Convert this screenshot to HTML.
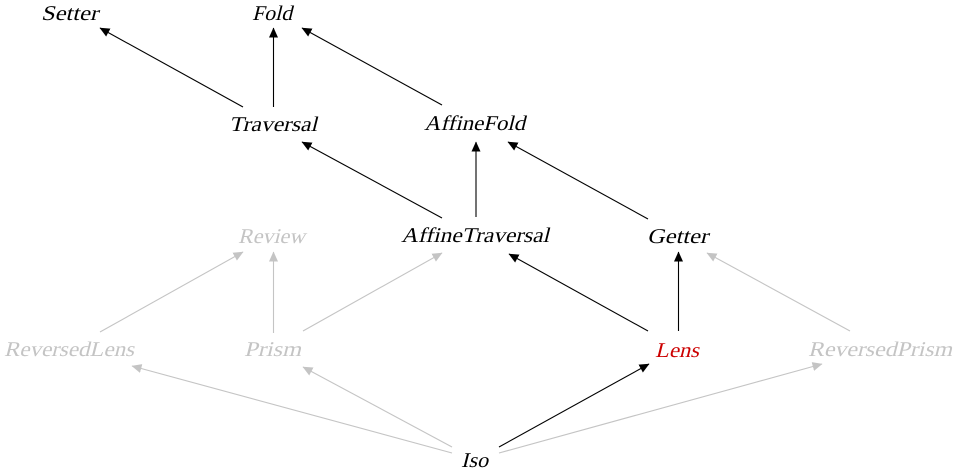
<!DOCTYPE html>
<html>
<head>
<meta charset="utf-8">
<style>
  html, body { margin: 0; padding: 0; background: #ffffff; }
  body { width: 958px; height: 474px; overflow: hidden; }
  svg { display: block; }
  svg text { font-family: "Liberation Serif", "DejaVu Serif", serif; font-style: normal; font-weight: normal; font-size: 21px; }
  .k { fill: #000000; }
  .g { fill: #c4c4c4; }
  .r { fill: #cc0000; }
</style>
</head>
<body>
<svg width="958" height="474" viewBox="0 0 958 474" xmlns="http://www.w3.org/2000/svg">
  <defs>
    <marker id="ab" markerUnits="userSpaceOnUse" markerWidth="10" markerHeight="9" refX="9.5" refY="4.5" orient="auto">
      <path d="M0,0 L10,4.5 L0,9 z" fill="#000"/>
    </marker>
    <marker id="ag" markerUnits="userSpaceOnUse" markerWidth="10" markerHeight="9" refX="9.5" refY="4.5" orient="auto">
      <path d="M0,0 L10,4.5 L0,9 z" fill="#c4c4c4"/>
    </marker>
  </defs>

  <!-- black edges -->
  <g stroke="#000" stroke-width="1.1" fill="none">
    <line x1="243" y1="107" x2="100" y2="28" marker-end="url(#ab)"/>
    <line x1="273.5" y1="107" x2="273.5" y2="28" marker-end="url(#ab)"/>
    <line x1="442" y1="105" x2="302" y2="28" marker-end="url(#ab)"/>
    <line x1="442" y1="218" x2="302" y2="142" marker-end="url(#ab)"/>
    <line x1="476" y1="217" x2="476" y2="142" marker-end="url(#ab)"/>
    <line x1="648" y1="219" x2="508" y2="142" marker-end="url(#ab)"/>
    <line x1="648" y1="331" x2="509" y2="254" marker-end="url(#ab)"/>
    <line x1="678.5" y1="331" x2="678.5" y2="252" marker-end="url(#ab)"/>
    <line x1="499" y1="447" x2="649" y2="364" marker-end="url(#ab)"/>
  </g>

  <!-- gray edges -->
  <g stroke="#c4c4c4" stroke-width="1.1" fill="none">
    <line x1="850" y1="331" x2="707" y2="253" marker-end="url(#ag)"/>
    <line x1="100" y1="332" x2="243" y2="252" marker-end="url(#ag)"/>
    <line x1="273.5" y1="333" x2="273.5" y2="252" marker-end="url(#ag)"/>
    <line x1="303" y1="331" x2="442" y2="253" marker-end="url(#ag)"/>
    <line x1="452" y1="453" x2="132" y2="366" marker-end="url(#ag)"/>
    <line x1="452" y1="447" x2="303" y2="367" marker-end="url(#ag)"/>
    <line x1="499" y1="453" x2="822" y2="364" marker-end="url(#ag)"/>
  </g>

  <!-- nodes (serif, slanted via skew) -->
  <g font-family="Liberation Serif, DejaVu Serif, serif" font-size="21">
  <text class="k" transform="translate(41,20) skewX(-14)" x="0" y="0" textLength="57" lengthAdjust="spacingAndGlyphs">Setter</text>
  <text class="k" transform="translate(252,20) skewX(-14)" x="0" y="0" textLength="40" lengthAdjust="spacingAndGlyphs">Fold</text>
  <text class="k" transform="translate(229,131) skewX(-14)" x="0" y="0" textLength="88" lengthAdjust="spacingAndGlyphs">Traversal</text>
  <text class="k" transform="translate(424,130) skewX(-14)" x="0" y="0" textLength="101" lengthAdjust="spacingAndGlyphs">AffineFold</text>
  <text class="k" transform="translate(401,242) skewX(-14)" x="0" y="0" textLength="148" lengthAdjust="spacingAndGlyphs">AffineTraversal</text>
  <text class="k" transform="translate(647,243) skewX(-14)" x="0" y="0" textLength="61" lengthAdjust="spacingAndGlyphs">Getter</text>
  <text class="g" transform="translate(238,243) skewX(-14)" x="0" y="0" textLength="67" lengthAdjust="spacingAndGlyphs">Review</text>
  <text class="g" transform="translate(4,356) skewX(-14)" x="0" y="0" textLength="130" lengthAdjust="spacingAndGlyphs">ReversedLens</text>
  <text class="g" transform="translate(244,356) skewX(-14)" x="0" y="0" textLength="57" lengthAdjust="spacingAndGlyphs">Prism</text>
  <text class="r" transform="translate(655,357) skewX(-14)" x="0" y="0" textLength="44" lengthAdjust="spacingAndGlyphs">Lens</text>
  <text class="g" transform="translate(808,356) skewX(-14)" x="0" y="0" textLength="144" lengthAdjust="spacingAndGlyphs">ReversedPrism</text>
  <text class="k" transform="translate(461,467) skewX(-14)" x="0" y="0" textLength="27" lengthAdjust="spacingAndGlyphs">Iso</text>
  </g>
</svg>
</body>
</html>
